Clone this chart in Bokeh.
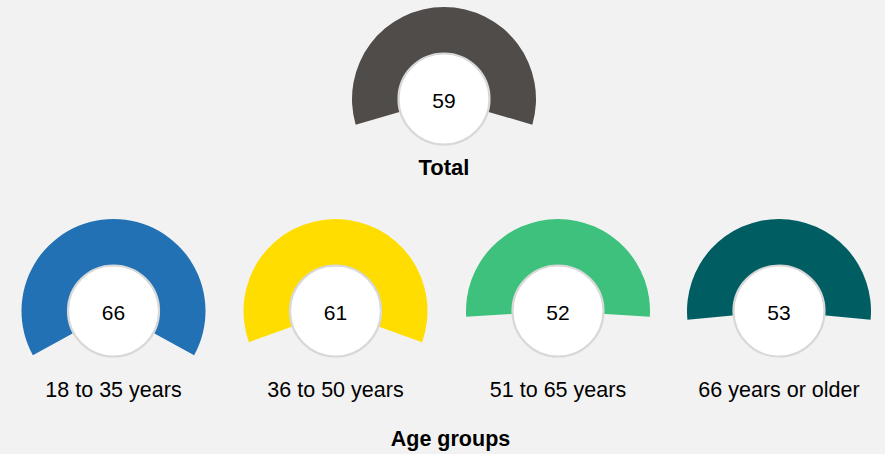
from bokeh.plotting import figure
from bokeh.models import Range1d, GlobalInlineStyleSheet
from bokeh.core.properties import value
from bokeh.embed import file_html
from bokeh.resources import INLINE
import math

# ---- data ----
categories = ["Total", "18 to 35 years", "36 to 50 years", "51 to 65 years", "66 years or older"]
values = [59, 66, 61, 52, 53]
colors = ["#504c49", "#2271b5", "#ffdd00", "#3dc17c", "#005e63"]
group_title = "Age groups"

# ---- layout (screen px of the 885x454 window) ----
centers_x = [443.5, 113, 335, 557.5, 778.5]
centers_y = [98.5, 310.5, 310.5, 310.5, 310.5]
label_y = [167, 389, 389, 389, 389]
OUTER_R = 92
INNER_R = 45.5
BG = "#f2f2f2"
FONT = "Liberation Sans"

W, H = 885, 454
p = figure(width=W, height=H, output_backend="svg", toolbar_location=None,
           x_range=Range1d(0, W), y_range=Range1d(0, H),
           min_border=0, outline_line_color=None)
p.axis.visible = False
p.grid.visible = False
p.background_fill_color = BG
p.border_fill_color = BG
p.stylesheets = [GlobalInlineStyleSheet(css="html, body { background: #f2f2f2; overflow: hidden; }")]

def Y(sy):
    return H - sy

for cat, v, c, cx, cy, ly in zip(categories, values, colors, centers_x, centers_y, label_y):
    span = v / 100 * 2 * math.pi
    start = math.pi / 2 - span / 2
    end = math.pi / 2 + span / 2
    p.wedge(x=[cx], y=[Y(cy)], radius=OUTER_R, start_angle=start, end_angle=end,
            direction="anticlock", fill_color=c, line_color=None)
    p.scatter(x=[cx], y=[Y(cy)], size=2 * INNER_R, marker="circle",
              fill_color="white", line_color="#d8d8d8", line_width=2.2)
    p.text(x=[cx], y=[Y(cy + 1.5)], text=[str(v)], text_align="center", text_baseline="middle",
           text_font=value(FONT), text_font_size="21px", text_color="#000000")
    bold = cat == "Total"
    p.text(x=[cx], y=[Y(ly)], text=[cat], text_align="center", text_baseline="middle",
           text_font=value(FONT), text_font_size="22px" if bold else "21.5px", text_color="#000000",
           text_font_style="bold" if bold else "normal")

p.text(x=[450], y=[Y(438)], text=[group_title], text_align="center", text_baseline="middle",
       text_font=value(FONT), text_font_size="21.5px", text_font_style="bold", text_color="#000000")

open("out.html", "w").write(file_html(p, INLINE))
